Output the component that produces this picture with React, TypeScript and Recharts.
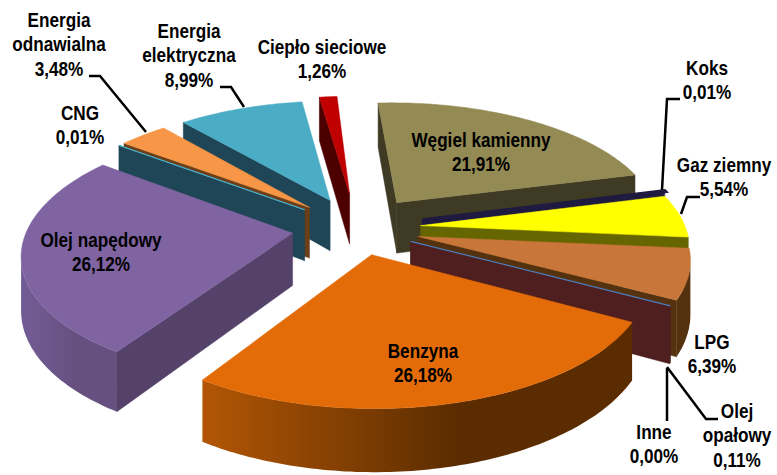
import React from "react";
import { PieChart, Pie } from "recharts";

const sliceNames = [
  "Węgiel kamienny",
  "Koks",
  "Gaz ziemny",
  "LPG",
  "Inne",
  "Olej opałowy",
  "Benzyna",
  "Olej napędowy",
  "CNG",
  "Energia odnawialna",
  "Energia elektryczna",
  "Ciepło sieciowe",
];
const sliceValues = [21.91, 0.01, 5.54, 6.39, 0.0, 0.11, 26.18, 26.12, 0.01, 3.48, 8.99, 1.26];

const topColors = ["#948a54", "#1f1a40", "#ffff00", "#c8763a", "#4a7ebb", "#8c3a38", "#e36c09", "#8064a2", "#4bacc6", "#f79646", "#4bacc6", "#c00000"];
const edgeColors = ["#3f3a24", "#1f1a40", "#666600", "#55320f", "#4f1f1f", "#4f1f1f", "#5a2c00", "#55426b", "#1f4656", "#6c3f18", "#1f4656", "#4d0000"];
const arcColors = ["#3f3a24", "#1f1a40", "#666600", "#55320f", "#2b3a55", "#4f1f1f", "#5a2c00", "#66507f", "#1f4656", "#6c3f18", "#1f4656", "#4d0000"];
const arcFarColors = ["#3f3a24", "#1f1a40", "#666600", "#55320f", "#2b3a55", "#4f1f1f", "#b25605", "#725c95", "#1f4656", "#6c3f18", "#1f4656", "#4d0000"];
const explodeBy = [70, 68, 64, 63, 60, 60, 58, 65, 67, 67, 68, 77];
const strokeBy = [0.5, 4, 0.5, 0.5, 1.2, 0.5, 0.5, 0.5, 1, 0.5, 0.5, 0.5];

// back to front
const paintOrder = [
  "Ciepło sieciowe",
  "Energia elektryczna",
  "Węgiel kamienny",
  "Energia odnawialna",
  "CNG",
  "Koks",
  "Gaz ziemny",
  "LPG",
  "Olej opałowy",
  "Inne",
  "Olej napędowy",
  "Benzyna",
];

const labelLayout: Record<string, { x: number; y: number; lines: string[] }> = {
  "Węgiel kamienny": { x: 481, y: 147, lines: ["Węgiel kamienny"] },
  Koks: { x: 707, y: 75, lines: ["Koks"] },
  "Gaz ziemny": { x: 724, y: 172, lines: ["Gaz ziemny"] },
  LPG: { x: 712, y: 349, lines: ["LPG"] },
  Inne: { x: 654, y: 439, lines: ["Inne"] },
  "Olej opałowy": { x: 737, y: 418, lines: ["Olej", "opałowy"] },
  Benzyna: { x: 423, y: 358, lines: ["Benzyna"] },
  "Olej napędowy": { x: 101, y: 247, lines: ["Olej napędowy"] },
  CNG: { x: 80, y: 120, lines: ["CNG"] },
  "Energia odnawialna": { x: 59, y: 27, lines: ["Energia", "odnawialna"] },
  "Energia elektryczna": { x: 189, y: 38, lines: ["Energia", "elektryczna"] },
  "Ciepło sieciowe": { x: 322, y: 54, lines: ["Ciepło sieciowe"] },
};

const leaderLines: Record<string, string> = {
  Koks: "M680 99H667L662 190",
  "Gaz ziemny": "M700 197H687L681 214",
  Inne: "M667 368V421",
  "Olej opałowy": "M718 419H706L667 367",
  "Energia odnawialna": "M89 76H100L146 132",
  "Energia elektryczna": "M220 87H231L244 107",
};

const tableData = sliceNames.map((name, i) => ({ name, value: sliceValues[i] }));

const TILT = 0.46;
const PERSPECTIVE = 0.15;
const DEPTH = 52;

function pathOf(points: number[][]) {
  return "M" + points.map((p) => `${p[0].toFixed(1)} ${p[1].toFixed(1)}`).join("L") + "Z";
}

function Slice3D(props: any) {
  const { cx, cy, outerRadius: R, startAngle, endAngle } = props;
  const name = props.payload?.name ?? props.name;
  const i = sliceNames.indexOf(name);
  const rad = Math.PI / 180;

  const project = (X: number, Y: number, down = 0) => {
    const p = 1 / (1 - (PERSPECTIVE * Y) / R);
    return [cx + X * p, cy + (TILT * Y + down) * p];
  };

  const mid = ((startAngle + endAngle) / 2) * rad;
  const ox = explodeBy[i] * Math.cos(mid);
  const oy = -explodeBy[i] * Math.sin(mid);

  const steps = Math.max(1, Math.ceil(Math.abs(startAngle - endAngle)));
  const angles = Array.from({ length: steps + 1 }, (_, k) => startAngle + ((endAngle - startAngle) * k) / steps);
  const rimAt = (a: number, down = 0) => project(ox + R * Math.cos(a * rad), oy - R * Math.sin(a * rad), down);

  const apex = project(ox, oy);
  const apexLow = project(ox, oy, DEPTH);
  const rim = angles.map((a) => rimAt(a));
  const rimLow = angles.map((a) => rimAt(a, DEPTH));
  const first = rim[0];
  const last = rim[rim.length - 1];

  // only the parts of the outer wall that face the viewer
  const front: number[] = [];
  for (let k = 0; k < rim.length - 1; k++) {
    if (rim[k + 1][0] < rim[k][0]) front.push(k, k + 1);
  }
  const frontIdx = Array.from(new Set(front));
  const arcPath =
    frontIdx.length > 1
      ? pathOf([...frontIdx.map((k) => rim[k]), ...frontIdx.slice().reverse().map((k) => rimLow[k])])
      : null;

  const gradId = `arc-wall-${i}`;

  return (
    <g>
      <defs>
        <linearGradient id={gradId} x1="0" y1="0" x2="1" y2="0">
          <stop offset="0" stopColor={arcFarColors[i]} />
          <stop offset="0.6" stopColor={arcColors[i]} />
        </linearGradient>
      </defs>
      {arcPath && <path d={arcPath} fill={`url(#${gradId})`} />}
      {first[0] < apex[0] && (
        <path d={pathOf([apex, first, rimLow[0], apexLow])} fill={edgeColors[i]} stroke={edgeColors[i]} strokeWidth={0.5} />
      )}
      {last[0] > apex[0] && (
        <path
          d={pathOf([apex, last, rimLow[rimLow.length - 1], apexLow])}
          fill={edgeColors[i]}
          stroke={edgeColors[i]}
          strokeWidth={0.5}
        />
      )}
      <path d={pathOf([apex, ...rim])} fill={topColors[i]} stroke={topColors[i]} strokeWidth={strokeBy[i]} />
    </g>
  );
}

function SliceLabel(props: any) {
  const name = props.payload?.name ?? props.name;
  const layout = labelLayout[name];
  const value = sliceValues[sliceNames.indexOf(name)];
  const lines = [...layout.lines, `${value.toFixed(2).replace(".", ",")}%`];
  const leader = leaderLines[name];
  return (
    <g>
      {leader && <path d={leader} fill="none" stroke="#000" strokeWidth={2.5} />}
      <g transform={`translate(${layout.x} ${layout.y}) scale(0.88 1)`}>
        <text
          x={0}
          y={0}
          textAnchor="middle"
          fontFamily="'Liberation Sans', sans-serif"
          fontWeight="bold"
          fontSize={19.5}
          fill="#000"
        >
          {lines.map((line, k) => (
            <tspan key={k} x={0} dy={k === 0 ? 0 : 24.5}>
              {line}
            </tspan>
          ))}
        </text>
      </g>
    </g>
  );
}

export default function App() {
  return (
    <div style={{ position: "absolute", left: 0, top: 0, width: 777, height: 475, background: "#fff" }}>
      <PieChart width={777} height={475} margin={{ top: 0, right: 0, bottom: 0, left: 0 }}>
        {paintOrder.map((sliceName) => (
          <Pie
            key={sliceName}
            data={tableData}
            dataKey="value"
            nameKey="name"
            cx={357}
            cy={228}
            outerRadius={265}
            startAngle={93.5}
            endAngle={-266.5}
            stroke="none"
            isAnimationActive={false}
            shape={(p: any) => ((p.payload?.name ?? p.name) === sliceName ? <Slice3D {...p} /> : <g />)}
          />
        ))}
        <Pie
          data={tableData}
          dataKey="value"
          nameKey="name"
          cx={357}
          cy={228}
          outerRadius={265}
          startAngle={93.5}
          endAngle={-266.5}
          isAnimationActive={false}
          shape={() => <g />}
          labelLine={false}
          label={(p: any) => <SliceLabel {...p} />}
        />
      </PieChart>
    </div>
  );
}
